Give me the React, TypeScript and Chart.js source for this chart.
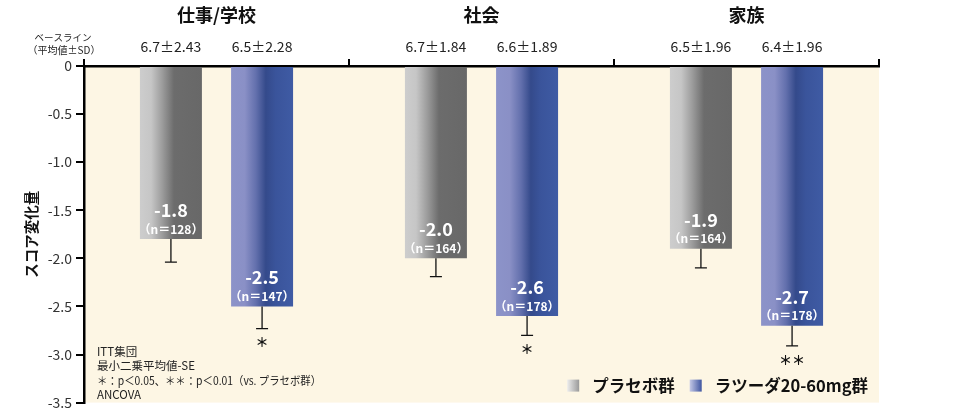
import React, { useEffect, useRef } from 'react';
import { Chart, registerables } from 'chart.js';

Chart.register(...registerables);

const FONT = "'Noto Sans CJK JP', 'Noto Sans', sans-serif";

// ---- data ----
const categories = ['仕事/学校', '社会', '家族'];
const seriesNames = ['プラセボ群', 'ラツーダ20-60mg群'];
const placeboValues = [-1.8, -2.0, -1.9];
const lurasidoneValues = [-2.5, -2.6, -2.7];
const placeboSE = [0.24, 0.19, 0.2];
const lurasidoneSE = [0.23, 0.2, 0.21];
const placeboN = [128, 164, 164];
const lurasidoneN = [147, 178, 178];
const placeboBaseline = ['6.7±2.43', '6.7±1.84', '6.5±1.96'];
const lurasidoneBaseline = ['6.5±2.28', '6.6±1.89', '6.4±1.96'];
const lurasidoneSignificance = ['＊', '＊', '＊＊'];
const yMin = -3.5;
const yMax = 0;
const yStep = 0.5;
const yTitle = 'スコア変化量';
const baselineHeader = ['ベースライン', '（平均値±SD）'];
const footnotes = ['ITT集団', '最小二乗平均値-SE', '＊：p＜0.05、＊＊：p＜0.01（vs. プラセボ群）', 'ANCOVA'];

const CAT_PCT = 0.688;
const BAR_PCT = 0.68;

const placeboStops: [number, string][] = [
  [0, '#cdcdcd'],
  [0.18, '#c6c6c6'],
  [0.36, '#9c9c9c'],
  [0.55, '#6c6c6c'],
  [1, '#686868'],
];
const drugStops: [number, string][] = [
  [0, '#8c93c9'],
  [0.22, '#8a90c6'],
  [0.4, '#6370ad'],
  [0.56, '#344a8b'],
  [0.72, '#3a549b'],
  [1, '#3f5ba4'],
];
const placeboLegendStops: [number, string][] = [
  [0, '#ececec'],
  [1, '#9a9a9a'],
];
const drugLegendStops: [number, string][] = [
  [0, '#c4c8e6'],
  [1, '#3f55a0'],
];

function grad(ctx: CanvasRenderingContext2D, x0: number, x1: number, stops: [number, string][]) {
  const g = ctx.createLinearGradient(x0, 0, x1, 0);
  stops.forEach(([o, c]) => g.addColorStop(o, c));
  return g;
}

function barFill(stops: [number, string][]) {
  return (c: any) => {
    const chart = c.chart;
    const xs = chart.scales && chart.scales.x;
    if (!chart.chartArea || !xs) return stops[stops.length - 1][1];
    const center = xs.getPixelForValue(c.dataIndex);
    const catW = xs.width / categories.length;
    const slot = (catW * CAT_PCT) / 2;
    const bc = center + (c.datasetIndex - 0.5) * slot;
    const bw = slot * BAR_PCT;
    return grad(chart.ctx, bc - bw / 2, bc + bw / 2, stops);
  };
}

const seDatasets = [placeboSE, lurasidoneSE];
const nDatasets = [placeboN, lurasidoneN];
const baselineDatasets = [placeboBaseline, lurasidoneBaseline];

const overlayPlugin = {
  id: 'overlay',
  beforeDraw(chart: any) {
    const { ctx, chartArea: a } = chart;
    ctx.save();
    ctx.fillStyle = '#ffffff';
    ctx.fillRect(0, 0, chart.width, chart.height);
    ctx.fillStyle = '#fdf6e4';
    ctx.fillRect(a.left, a.top, a.right - a.left, a.bottom - a.top);
    ctx.restore();
  },
  afterDatasetsDraw(chart: any) {
    const { ctx } = chart;
    const ys = chart.scales.y;
    ctx.save();
    chart.data.datasets.forEach((ds: any, di: number) => {
      const meta = chart.getDatasetMeta(di);
      meta.data.forEach((el: any, i: number) => {
        const v = ds.data[i];
        const se = seDatasets[di][i];
        const yBar = ys.getPixelForValue(v);
        const yCap = ys.getPixelForValue(v - se);
        // error bar
        ctx.strokeStyle = '#111';
        ctx.lineWidth = 1.3;
        ctx.beginPath();
        ctx.moveTo(el.x, yBar);
        ctx.lineTo(el.x, yCap);
        ctx.moveTo(el.x - 6, yCap);
        ctx.lineTo(el.x + 6, yCap);
        ctx.stroke();
        // labels inside bar
        ctx.fillStyle = '#ffffff';
        ctx.textAlign = 'center';
        ctx.textBaseline = 'middle';
        ctx.font = `bold 18px ${FONT}`;
        ctx.fillText(v.toFixed(1), el.x, yBar - 29);
        ctx.font = `bold 12px ${FONT}`;
        ctx.fillText(`（n＝${nDatasets[di][i]}）`, el.x, yBar - 10);
        // significance
        if (di === 1) {
          ctx.fillStyle = '#111';
          ctx.font = `bold 13px ${FONT}`;
          ctx.fillText(lurasidoneSignificance[i], el.x, yCap + 14);
        }
      });
    });
    ctx.restore();
  },
  afterDraw(chart: any) {
    const { ctx, chartArea: a } = chart;
    const xs = chart.scales.x;
    ctx.save();
    ctx.textAlign = 'center';
    ctx.textBaseline = 'middle';
    // category titles
    ctx.fillStyle = '#111';
    ctx.font = `bold 18px ${FONT}`;
    categories.forEach((c, i) => ctx.fillText(c, xs.getPixelForValue(i), a.top - 51));
    // baseline values
    ctx.font = `14px ${FONT}`;
    ctx.fillStyle = '#222';
    chart.data.datasets.forEach((_: any, di: number) => {
      chart.getDatasetMeta(di).data.forEach((el: any, i: number) => {
        ctx.fillText(baselineDatasets[di][i], el.x, a.top - 19);
      });
    });
    // header
    ctx.font = `9.5px ${FONT}`;
    ctx.fillText(baselineHeader[0], a.left - 21, a.top - 29);
    ctx.font = `10px ${FONT}`;
    ctx.fillText(baselineHeader[1], a.left - 20, a.top - 16);
    // y title
    ctx.save();
    ctx.translate(31, (a.top + a.bottom) / 2);
    ctx.rotate(-Math.PI / 2);
    ctx.font = `bold 14.5px ${FONT}`;
    ctx.fillStyle = '#111';
    ctx.fillText(yTitle, 0, 0);
    ctx.restore();
    // footnotes
    ctx.textAlign = 'left';
    ctx.font = `11.5px ${FONT}`;
    ctx.fillStyle = '#222';
    footnotes.forEach((t, i) => {
      const y = a.bottom - 8 - (footnotes.length - 1 - i) * 14.4;
      if (i === 2) ctx.fillText(t, a.left + 13, y, 224);
      else ctx.fillText(t, a.left + 13, y);
    });
    // legend
    ctx.font = `bold 16.5px ${FONT}`;
    ctx.fillStyle = '#111';
    const ly = a.bottom - 17;
    const sq = 12;
    const w2 = ctx.measureText(seriesNames[1]).width;
    const t2x = a.right - 11 - w2;
    const s2x = t2x - 13 - sq;
    const w1 = ctx.measureText(seriesNames[0]).width;
    const t1x = s2x - 15 - w1;
    const s1x = t1x - 13 - sq;
    ctx.fillStyle = grad(ctx, s1x, s1x + sq, placeboLegendStops);
    ctx.fillRect(s1x, ly - sq / 2, sq, sq);
    ctx.fillStyle = grad(ctx, s2x, s2x + sq, drugLegendStops);
    ctx.fillRect(s2x, ly - sq / 2, sq, sq);
    ctx.fillStyle = '#111';
    ctx.fillText(seriesNames[0], t1x, ly);
    ctx.fillText(seriesNames[1], t2x, ly);
    ctx.restore();
  },
};

export default function App() {
  const ref = useRef<HTMLCanvasElement>(null);
  useEffect(() => {
    document.body.style.margin = '0';
    const canvas = ref.current;
    if (!canvas) return;
    const chart = new Chart(canvas, {
      type: 'bar',
      data: {
        labels: categories,
        datasets: [
          {
            label: seriesNames[0],
            data: placeboValues,
            backgroundColor: barFill(placeboStops),
            categoryPercentage: CAT_PCT,
            barPercentage: BAR_PCT,
            borderWidth: 0,
          },
          {
            label: seriesNames[1],
            data: lurasidoneValues,
            backgroundColor: barFill(drugStops),
            categoryPercentage: CAT_PCT,
            barPercentage: BAR_PCT,
            borderWidth: 0,
          },
        ],
      },
      options: {
        animation: false,
        responsive: true,
        maintainAspectRatio: false,
        devicePixelRatio: 1,
        layout: { padding: { left: 0, top: 59, right: 81, bottom: 11 } },
        plugins: { legend: { display: false }, tooltip: { enabled: false } },
        scales: {
          x: {
            position: 'top',
            z: 1,
            offset: true,
            ticks: { display: false },
            grid: {
              offset: true,
              drawOnChartArea: false,
              drawTicks: true,
              tickLength: 7,
              color: '#000',
              lineWidth: 2,
            },
            border: { display: true, color: '#000', width: 2.5 },
            afterFit: (s: any) => {
              s.height = 7;
            },
          },
          y: {
            min: yMin,
            max: yMax,
            z: 1,
            ticks: {
              stepSize: yStep,
              padding: 4,
              color: '#333',
              font: { family: FONT, size: 14 },
              callback: (v: any) => (Number(v) === 0 ? '0' : Number(v).toFixed(1)),
            },
            grid: {
              drawOnChartArea: false,
              drawTicks: true,
              tickLength: 8,
              color: '#000',
              lineWidth: 2,
            },
            border: { display: true, color: '#000', width: 2.5 },
            afterFit: (s: any) => {
              s.width = 84;
            },
          },
        },
      },
      plugins: [overlayPlugin],
    });
    return () => chart.destroy();
  }, []);
  return (
    <div style={{ position: 'relative', width: 960, height: 415 }}>
      <canvas ref={ref} />
    </div>
  );
}
